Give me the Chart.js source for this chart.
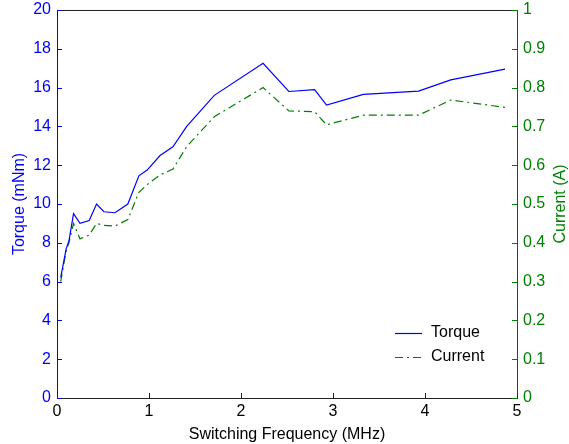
<!DOCTYPE html>
<html>
<head>
<meta charset="utf-8">
<script src="https://cdn.jsdelivr.net/npm/chart.js@4.4.1/dist/chart.umd.min.js"></script>
<style>
  html, body { margin: 0; padding: 0; background: #fff; }
  #wrap { width: 569px; height: 444px; position: relative; }
</style>
</head>
<body>
<div id="wrap"><canvas id="torqueChart"></canvas></div>
<script>
// switching frequency (MHz)
const freq = [0.04, 0.1, 0.13, 0.18, 0.25, 0.35, 0.43, 0.51, 0.63, 0.77, 0.89, 0.98,
              1.12, 1.26, 1.41, 1.71, 2.24, 2.52, 2.80, 2.93, 3.33, 3.93, 4.28, 4.87];
const torque = [6.2, 7.7, 8.1, 9.5, 9.0, 9.15, 10.0, 9.6, 9.55, 10.0, 11.45, 11.75,
                12.5, 12.95, 14.0, 15.6, 17.25, 15.8, 15.9, 15.1, 15.65, 15.82, 16.4, 16.95];
const current = [0.30, 0.38, 0.40, 0.45, 0.41, 0.42, 0.45, 0.445, 0.443, 0.46, 0.53, 0.55,
                 0.575, 0.59, 0.648, 0.725, 0.80, 0.74, 0.738, 0.704, 0.729, 0.729, 0.768, 0.749];

const xTicks = [0, 1, 2, 3, 4, 5];
const torqueTicks = [0, 2, 4, 6, 8, 10, 12, 14, 16, 18, 20];
const currentTicks = [0, 0.1, 0.2, 0.3, 0.4, 0.5, 0.6, 0.7, 0.8, 0.9, 1];
const seriesNames = ['Torque', 'Current'];
const currentTitle = 'Current (A)';

const blue = '#0000ff';
const green = '#008000';
const font = { family: '"Liberation Sans", Arial, Helvetica, sans-serif', size: 16 };

const toPoints = (xs, ys) => xs.map((x, i) => ({ x: x, y: ys[i] }));

// MATLAB-like inward ticks, top box edge, right title and legend
const boxPlugin = {
    id: 'boxPlugin',
    afterDraw(chart) {
        const c = chart.ctx;
        const a = chart.chartArea;
        const len = 5;
        c.save();
        c.lineWidth = 1;

        c.strokeStyle = '#222';
        c.beginPath();
        c.moveTo(a.left, a.top + 0.5);
        c.lineTo(a.right, a.top + 0.5);
        c.stroke();

        c.beginPath();
        xTicks.forEach(v => {
            const px = Math.round(chart.scales.x.getPixelForValue(v)) + 0.5;
            c.moveTo(px, a.bottom);
            c.lineTo(px, a.bottom - len);
        });
        c.stroke();

        c.strokeStyle = blue;
        c.beginPath();
        torqueTicks.forEach(v => {
            const py = Math.round(chart.scales.y.getPixelForValue(v)) + 0.5;
            c.moveTo(a.left, py);
            c.lineTo(a.left + len, py);
        });
        c.stroke();

        c.strokeStyle = green;
        c.beginPath();
        currentTicks.forEach(v => {
            const py = Math.round(chart.scales.y1.getPixelForValue(v)) + 0.5;
            c.moveTo(a.right, py);
            c.lineTo(a.right - len, py);
        });
        c.stroke();

        c.font = font.size + 'px ' + font.family;

        // right axis title reads bottom-to-top like the left one
        c.save();
        c.translate(a.right + 44, (a.top + a.bottom) / 2);
        c.rotate(-Math.PI / 2);
        c.textAlign = 'center';
        c.textBaseline = 'middle';
        c.fillStyle = green;
        c.fillText(currentTitle, 0, 0);
        c.restore();

        // legend
        const lx = a.right - 122;
        const rows = [a.bottom - 65, a.bottom - 41];
        c.textBaseline = 'middle';
        c.fillStyle = '#000';
        chart.data.datasets.forEach((ds, i) => {
            c.strokeStyle = ds.borderColor;
            c.lineWidth = ds.borderWidth;
            c.setLineDash(ds.borderDash || []);
            c.beginPath();
            c.moveTo(lx, rows[i] + 0.5);
            c.lineTo(lx + 27, rows[i] + 0.5);
            c.stroke();
            c.setLineDash([]);
            c.fillText(seriesNames[i], lx + 36, rows[i]);
        });
        c.restore();
    }
};

const fitY = w => s => { s.width = w; s.paddingTop = 0; s.paddingBottom = 0; };

const chart = new Chart(document.getElementById('torqueChart'), {
    type: 'scatter',
    data: {
        datasets: [{
            label: seriesNames[0],
            data: toPoints(freq, torque),
            yAxisID: 'y',
            showLine: true,
            borderColor: blue,
            borderWidth: 1.2,
            pointRadius: 0,
            tension: 0
        }, {
            label: seriesNames[1],
            data: toPoints(freq, current),
            yAxisID: 'y1',
            showLine: true,
            borderColor: green,
            borderWidth: 1.2,
            borderDash: [8, 4, 2, 4],
            pointRadius: 0,
            tension: 0
        }]
    },
    options: {
        responsive: true,
        maintainAspectRatio: false,
        animation: false,
        layout: { padding: { top: 10, left: 0, right: 0, bottom: 0 } },
        plugins: {
            legend: { display: false },
            tooltip: { enabled: false }
        },
        scales: {
            x: {
                type: 'linear',
                min: 0,
                max: 5,
                afterFit: s => { s.height = 46; s.paddingLeft = 0; s.paddingRight = 0; },
                afterBuildTicks: s => { s.ticks = xTicks.map(v => ({ value: v })); },
                grid: { display: false, drawTicks: false },
                border: { display: true, color: '#222', width: 1 },
                ticks: { color: '#000', font: font, padding: 4, maxRotation: 0 },
                title: { display: true, text: 'Switching Frequency (MHz)', color: '#000', font: font, padding: 0 }
            },
            y: {
                position: 'left',
                min: 0,
                max: 20,
                afterFit: fitY(57),
                afterBuildTicks: s => { s.ticks = torqueTicks.map(v => ({ value: v })); },
                grid: { display: false, drawTicks: false },
                border: { display: true, color: blue, width: 1 },
                ticks: { color: blue, font: font, padding: 6 },
                title: { display: true, text: 'Torque (mNm)', color: blue, font: font, padding: { top: 10, bottom: 0 } }
            },
            y1: {
                position: 'right',
                min: 0,
                max: 1,
                afterFit: fitY(52),
                afterBuildTicks: s => { s.ticks = currentTicks.map(v => ({ value: v })); },
                grid: { display: false, drawTicks: false },
                border: { display: true, color: '#0b5a2a', width: 1 },
                ticks: { color: green, font: font, padding: 6, callback: v => String(v) },
                title: { display: false }
            }
        }
    },
    plugins: [boxPlugin]
});
</script>
</body>
</html>
